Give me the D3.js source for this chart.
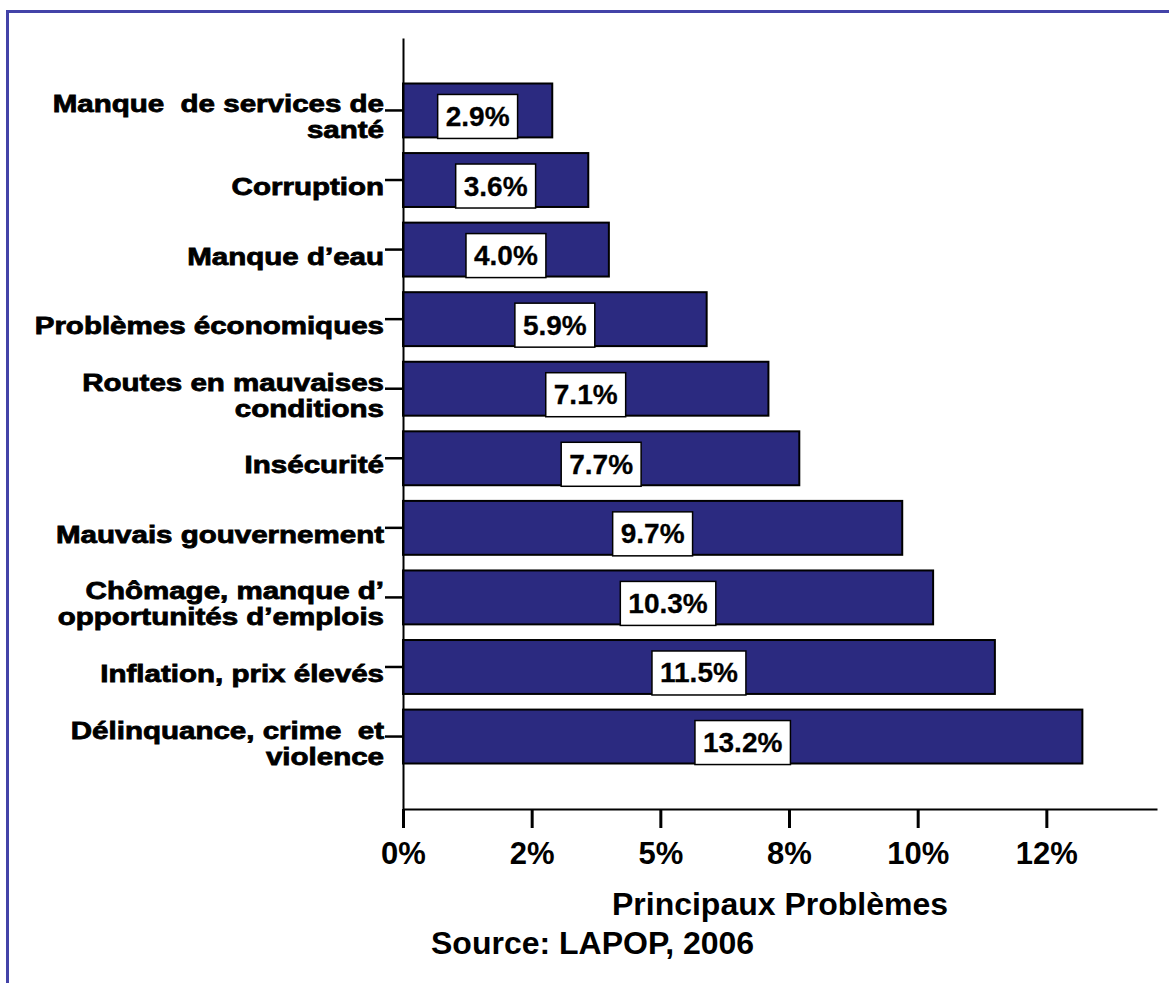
<!DOCTYPE html>
<html><head><meta charset="utf-8">
<script src="https://cdn.jsdelivr.net/npm/d3@7"></script>
<style>
body{margin:0;background:#fff}
svg{display:block}
text{font-family:"Liberation Sans",Arial,sans-serif;font-weight:bold;fill:#000}
</style>
</head><body>
<svg id="chart" width="1169" height="983"></svg>
<script>
// ---- data ----
const categories = [
  "Manque  de services de santé",
  "Corruption",
  "Manque d’eau",
  "Problèmes économiques",
  "Routes en mauvaises conditions",
  "Insécurité",
  "Mauvais gouvernement",
  "Chômage, manque d’opportunités d’emplois",
  "Inflation, prix élevés",
  "Délinquance, crime  et violence"
];
const categoryLines = [
  ["Manque  de services de", "santé"],
  ["Corruption"],
  ["Manque d’eau"],
  ["Problèmes économiques"],
  ["Routes en mauvaises", "conditions"],
  ["Insécurité"],
  ["Mauvais gouvernement"],
  ["Chômage, manque d’", "opportunités d’emplois"],
  ["Inflation, prix élevés"],
  ["Délinquance, crime  et", "violence"]
];
const values = [2.9, 3.6, 4.0, 5.9, 7.1, 7.7, 9.7, 10.3, 11.5, 13.2];
const tickValues = [0, 2.5, 5, 7.5, 10, 12.5];
const tickLabels = ["0%", "2%", "5%", "8%", "10%", "12%"];
const xTitle = "Principaux Problèmes";
const sourceText = "Source: LAPOP, 2006";

// ---- layout ----
const svg = d3.select("#chart");
const barColor = "#2b2a80";

// frame border
svg.append("rect")
  .attr("x", 7.5).attr("y", 11.5)
  .attr("width", 1200).attr("height", 1000)
  .attr("fill", "none").attr("stroke", "#4343a8").attr("stroke-width", 3);

const x = d3.scaleLinear().domain([0, 14.65]).range([403, 1157]);
const y = d3.scaleBand().domain(categories).range([38, 809])
  .paddingInner(0.225).paddingOuter(0.654);

// bars
svg.append("g").selectAll("rect")
  .data(values)
  .join("rect")
  .attr("x", x(0))
  .attr("y", (d, i) => y(categories[i]))
  .attr("width", d => x(d) - x(0))
  .attr("height", y.bandwidth())
  .attr("fill", barColor)
  .attr("stroke", "#000")
  .attr("stroke-width", 2);

// x axis
const xAxis = d3.axisBottom(x)
  .tickValues(tickValues)
  .tickFormat((d, i) => tickLabels[i])
  .tickSize(19).tickSizeOuter(0).tickPadding(14);
const gx = svg.append("g").attr("transform", "translate(0,809)").call(xAxis);
gx.select(".domain").attr("stroke", "#000").attr("stroke-width", 2);
gx.selectAll(".tick line").attr("stroke", "#000").attr("stroke-width", 3);
gx.selectAll(".tick text")
  .attr("font-family", "Liberation Sans, Arial, sans-serif")
  .attr("font-weight", "bold").attr("font-size", 31).attr("fill", "#000");

// y axis
const yAxis = d3.axisLeft(y).tickSize(18).tickSizeOuter(0).tickFormat("");
const gy = svg.append("g").attr("transform", `translate(${x(0)},0)`).call(yAxis);
gy.select(".domain").attr("stroke", "#000").attr("stroke-width", 2);
gy.selectAll(".tick line").attr("stroke", "#000").attr("stroke-width", 2.5);

// category labels (one text per category, lines as tspans)
const labelG = svg.append("g");
categories.forEach((c, i) => {
  const cy = y(c) + y.bandwidth() / 2;
  const lines = categoryLines[i];
  const base = lines.length === 1 ? cy + 15 : cy + 2;
  const t = labelG.append("text")
    .attr("transform", `translate(384,${base}) scale(1.23,1)`)
    .attr("text-anchor", "end")
    .attr("font-size", 24)
    .attr("stroke", "#000").attr("stroke-width", 0.8)
    .style("white-space", "pre");
  lines.forEach((ln, j) => {
    t.append("tspan").attr("x", 0).attr("dy", j === 0 ? 0 : 26).text(ln);
  });
});

// value boxes
const valG = svg.append("g");
values.forEach((v, i) => {
  const cy = y(categories[i]) + y.bandwidth() / 2;
  const cx = (x(0) + x(v)) / 2;
  const g = valG.append("g");
  const t = g.append("text")
    .attr("x", cx).attr("y", cy + 15.5)
    .attr("text-anchor", "middle")
    .attr("font-size", 28)
    .attr("stroke", "#000").attr("stroke-width", 0.3)
    .text(d3.format(".1f")(v) + "%");
  const bb = t.node().getBBox();
  g.insert("rect", "text")
    .attr("x", cx - bb.width / 2 - 8)
    .attr("y", cy - 16)
    .attr("width", bb.width + 16)
    .attr("height", 44)
    .attr("fill", "#fff").attr("stroke", "#000").attr("stroke-width", 1.5);
});

// titles
svg.append("text")
  .attr("x", 780).attr("y", 915)
  .attr("text-anchor", "middle").attr("font-size", 32)
  .text(xTitle);
svg.append("text")
  .attr("x", 431).attr("y", 954)
  .attr("font-size", 32)
  .text(sourceText);
</script>
</body></html>
